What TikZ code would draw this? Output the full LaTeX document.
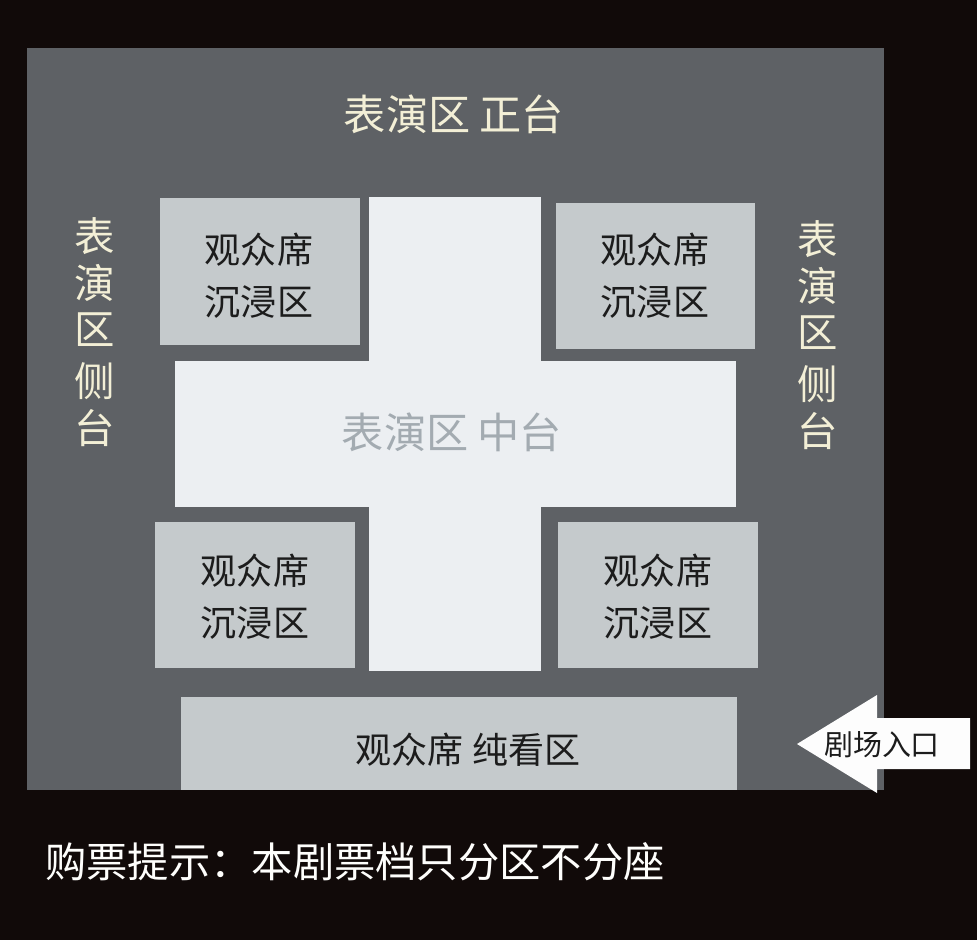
\documentclass[tikz,border=0pt]{standalone}
\usepackage{fontspec}
\usepackage{tikz}
\setmainfont{Noto Sans CJK SC}
\definecolor{bgdark}{HTML}{110A09}
\definecolor{stagegray}{HTML}{5E6165}
\definecolor{seatgray}{HTML}{C5CACC}
\definecolor{crosswhite}{HTML}{ECEFF2}
\definecolor{creamtext}{HTML}{F3EFD6}
\definecolor{midtext}{HTML}{A3ABB1}
\definecolor{darktext}{HTML}{1C1C1C}

\begin{document}
\begin{tikzpicture}[x=0.02cm,y=0.02cm]
              \tikzstyle{every node}+=[inner sep=0pt]
              \tikzstyle{stagelabel}=[text=creamtext, font=\fontsize{24}{28}\selectfont]
              \tikzstyle{sidelabel}=[text=creamtext, align=center, font=\fontsize{23}{26.5}\selectfont]
              \tikzstyle{seatlabel}=[text=darktext, align=center, font=\fontsize{20.5}{29.5}\selectfont]
              \fill [bgdark] (0,0) rectangle (977,-940);
              \fill [stagegray] (27,-48) rectangle (884,-790);
              % cross
              \fill [crosswhite] (369,-197) rectangle (541,-671);
              \fill [crosswhite] (175,-361) rectangle (736,-507);
              % seats
              \fill [seatgray] (160,-198) rectangle (360,-345);
              \fill [seatgray] (556,-203) rectangle (755,-349);
              \fill [seatgray] (155,-522) rectangle (355,-668);
              \fill [seatgray] (558,-522) rectangle (758,-668);
              \fill [seatgray] (181,-697) rectangle (737,-790);
              % entrance
              \fill [white!96!seatgray] (797,-744) -- (877,-695) -- (877,-718) -- (970,-718) -- (970,-769) -- (877,-769) -- (877,-793) -- cycle;
              \node [stagelabel] (zhengtai) at (454,-114) {表演区 正台};
              \node [sidelabel] (cetaiL) at (95,-332) {表\\演\\区\\[3pt]侧\\台};
              \node [sidelabel] (cetaiR) at (818,-335) {表\\演\\区\\[3pt]侧\\台};
              \node [stagelabel, text=midtext] (zhongtai) at (452,-432) {表演区 中台};
              \node [seatlabel] (seatNW) at (259,-276) {观众席\\沉浸区};
              \node [seatlabel] (seatNE) at (655,-276) {观众席\\沉浸区};
              \node [seatlabel] (seatSW) at (255,-597) {观众席\\沉浸区};
              \node [seatlabel] (seatSE) at (658,-597) {观众席\\沉浸区};
              \node [seatlabel] (chunkan) at (468,-750) {观众席 纯看区};
              \node [text=darktext, font=\fontsize{16.5}{20}\selectfont] (rukou) at (882,-745) {剧场入口};
              \node [anchor=west, text=white!94!creamtext, font=\fontsize{23.5}{27}\selectfont] (tishi) at (45,-862) {购票提示：本剧票档只分区不分座};
            \end{tikzpicture}
\end{document}
